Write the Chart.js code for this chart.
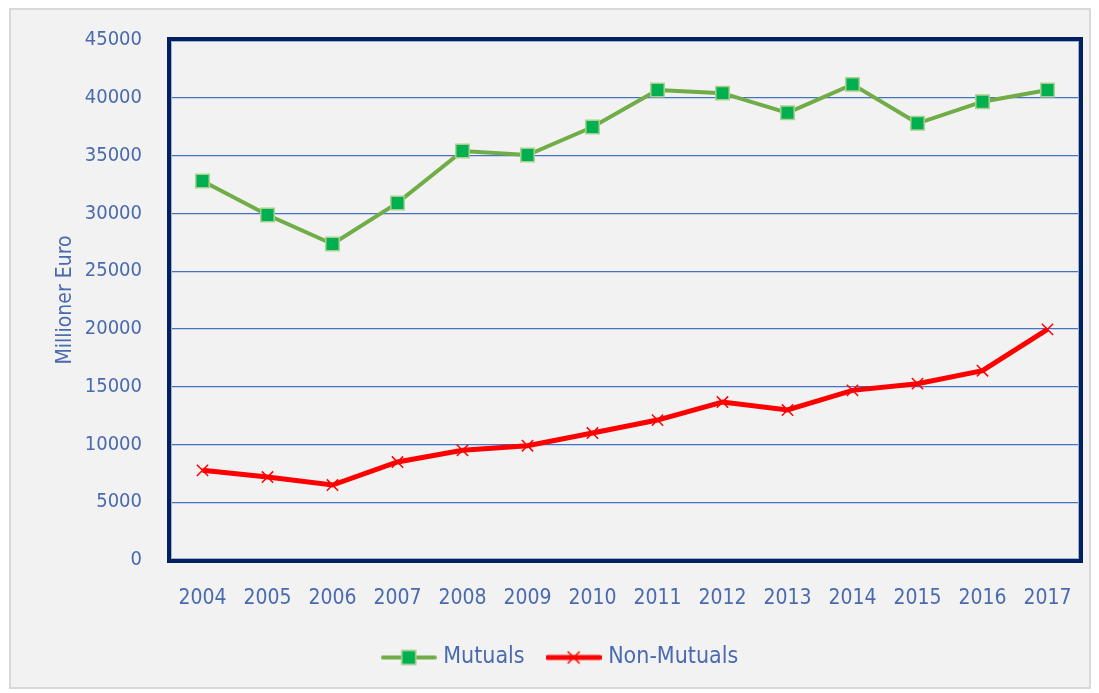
<!DOCTYPE html>
<html>
<head>
<meta charset="utf-8">
<script src="https://cdn.jsdelivr.net/npm/chart.js@4.4.1/dist/chart.umd.min.js"></script>
<style>
  html, body { margin: 0; padding: 0; background: #ffffff; }
  #frame { position: absolute; left: 9px; top: 8px; width: 1082px; height: 681px; box-sizing: border-box;
           border: 2px solid #d9d9d9; background: #f2f2f2; }
  #wrap { position: absolute; left: 0; top: 0; width: 1099px; height: 693px; }
</style>
</head>
<body>
<div id="frame"></div>
<div id="wrap"><canvas id="chart" width="1099" height="693"></canvas></div>
<script>
const years = ['2004','2005','2006','2007','2008','2009','2010','2011','2012','2013','2014','2015','2016','2017'];
const mutuals = [32800, 29850, 27350, 30900, 35400, 35050, 37470, 40670, 40400, 38700, 41160, 37790, 39660, 40670];
const nonMutuals = [7760, 7180, 6490, 8480, 9490, 9890, 10990, 12110, 13670, 12980, 14680, 15260, 16380, 19960];
const yTicks = [0, 5000, 10000, 15000, 20000, 25000, 30000, 35000, 40000, 45000];

const FONT = '"DejaVu Sans Condensed", "Liberation Sans Narrow", sans-serif';
const TEXT = '#4a6ab0';

function legendIcon(kind) {
  const c = document.createElement('canvas');
  c.width = 56; c.height = 20;
  const g = c.getContext('2d');
  g.lineCap = 'round';
  if (kind === 'mutuals') {
    g.strokeStyle = '#70ad47'; g.lineWidth = 4;
    g.beginPath(); g.moveTo(2, 10); g.lineTo(54, 10); g.stroke();
    g.fillStyle = '#00b050'; g.fillRect(21, 3, 14, 14);
    g.strokeStyle = '#a9d18e'; g.lineWidth = 1.5; g.strokeRect(21, 3, 14, 14);
  } else {
    g.strokeStyle = '#ff0000'; g.lineWidth = 5;
    g.beginPath(); g.moveTo(2, 10); g.lineTo(54, 10); g.stroke();
    g.lineWidth = 1.5; g.lineCap = 'butt';
    g.beginPath(); g.moveTo(22, 4); g.lineTo(34, 16); g.moveTo(34, 4); g.lineTo(22, 16); g.stroke();
  }
  return c;
}
const icons = [legendIcon('mutuals'), legendIcon('non')];

const plotBorder = {
  id: 'plotBorder',
  afterLayout(chart) {
    // legend in the reference sits a little right of the canvas centre
    chart.legend.left += 22;
    chart.legend.right += 22;
  },
  afterDatasetsDraw(chart) {
    const a = chart.chartArea, ctx = chart.ctx;
    ctx.save();
    ctx.strokeStyle = '#002060';
    ctx.lineWidth = 4;
    ctx.strokeRect(a.left - 1, a.top - 1, a.right - a.left + 2, a.bottom - a.top + 2);
    ctx.strokeStyle = '#9db0d8';
    ctx.lineWidth = 1;
    ctx.strokeRect(a.left + 1.5, a.top + 1.5, a.right - a.left - 3, a.bottom - a.top - 3);
    ctx.restore();
  }
};

new Chart(document.getElementById('chart'), {
  type: 'line',
  data: {
    labels: years,
    datasets: [
      { label: 'Mutuals', data: mutuals, borderColor: '#70ad47', borderWidth: 4,
        pointStyle: 'rect', pointRadius: 9.5, pointBackgroundColor: '#00b050',
        pointBorderColor: '#a9d18e', pointBorderWidth: 1.5, tension: 0 },
      { label: 'Non-Mutuals', data: nonMutuals, borderColor: '#ff0000', borderWidth: 5,
        pointStyle: 'crossRot', pointRadius: 8, pointBorderColor: '#ff0000',
        pointBorderWidth: 1.5, tension: 0 }
    ]
  },
  options: {
    responsive: false,
    animation: false,
    layout: { padding: { left: 0, right: 19, top: 37, bottom: 14 } },
    plugins: {
      tooltip: { enabled: false },
      legend: {
        position: 'bottom',
        labels: {
          usePointStyle: true,
          pointStyleWidth: 46,
          padding: 26,
          color: TEXT,
          font: { family: FONT, size: 23 },
          generateLabels: (chart) => chart.data.datasets.map((ds, i) => ({
            text: ds.label, pointStyle: icons[i], fillStyle: ds.borderColor,
            strokeStyle: ds.borderColor, lineWidth: 0, hidden: false, datasetIndex: i, fontColor: TEXT
          }))
        }
      }
    },
    scales: {
      x: {
        offset: true,
        grid: { display: false, drawTicks: false },
        border: { display: false },
        ticks: { color: TEXT, font: { family: FONT, size: 21 }, padding: 26, maxRotation: 0 },
        afterFit: (s) => { s.height = 60; }
      },
      y: {
        min: 0, max: 45000,
        afterBuildTicks: (s) => { s.ticks = yTicks.map(v => ({ value: v })); },
        grid: { color: '#4472c4', lineWidth: 1.2, drawTicks: false },
        border: { display: false },
        ticks: { color: TEXT, font: { family: FONT, size: 20 }, padding: 28, callback: (v) => String(v) },
        title: { display: true, text: 'Millioner Euro', color: TEXT,
                 font: { family: FONT, size: 21 }, padding: { top: 53, bottom: 0 } },
        afterFit: (s) => { s.width = 170; }
      }
    }
  },
  plugins: [plotBorder]
});
</script>
</body>
</html>
